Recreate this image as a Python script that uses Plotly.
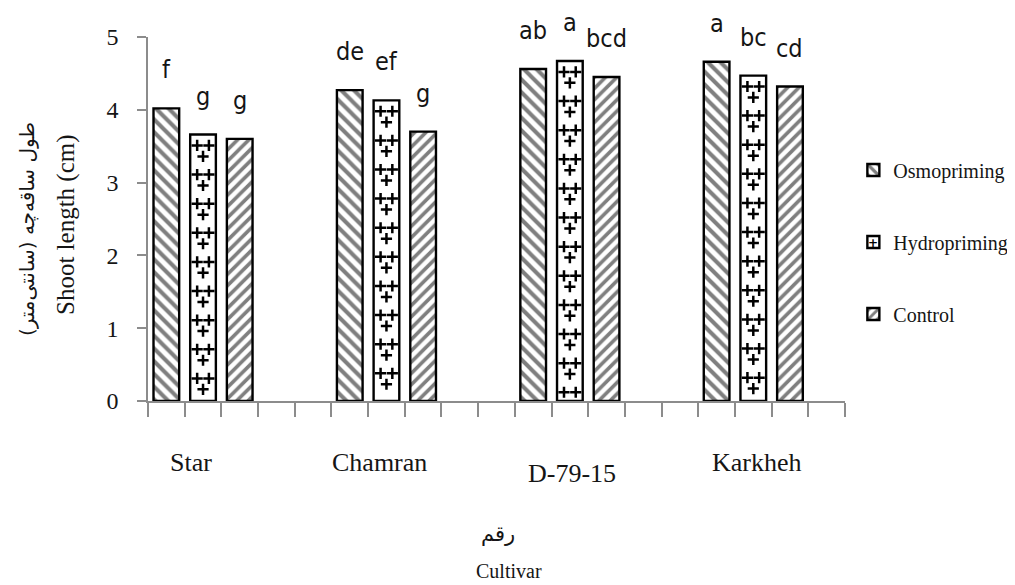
import plotly.graph_objects as go

# ---------------- data ----------------
cultivars = ["Star", "Chamran", "D-79-15", "Karkheh"]
series_names = ["Osmopriming", "Hydropriming", "Control"]
osmo = [4.02, 4.27, 4.56, 4.66]
hydro = [3.66, 4.13, 4.67, 4.47]
control = [3.60, 3.70, 4.45, 4.32]
osmo_letters = ["f", "de", "ab", "a"]
hydro_letters = ["g", "ef", "a", "bc"]
control_letters = ["g", "g", "bcd", "cd"]
y_ticks = [0, 1, 2, 3, 4, 5]

values = [osmo, hydro, control]
letters = [osmo_letters, hydro_letters, control_letters]

# ---------------- layout helpers ----------------
SLOTS_PER_GROUP = 5
N_SLOTS = 19
BAR_W = 0.70
SERIF = "Liberation Serif, Times New Roman, serif"
NARROW = "Liberation Sans Narrow, Arial Narrow, DejaVu Sans Condensed, sans-serif"
AXIS_COLOR = "#8c8c8c"
TEXT_COLOR = "#151515"

patterns = [
    dict(shape="\\", fgcolor="black", bgcolor="white", size=9, solidity=0.45),
    None,
    dict(shape="/", fgcolor="black", bgcolor="white", size=8, solidity=0.45),
]


def slot_x(group, idx):
    return group * SLOTS_PER_GROUP + idx + 0.5


fig = go.Figure()

for si, (name, vals) in enumerate(zip(series_names, values)):
    xs = [slot_x(g, si) for g in range(len(cultivars))]
    marker = dict(color="white", line=dict(color="black", width=2.4))
    if patterns[si] is not None:
        marker["pattern"] = patterns[si]
    fig.add_trace(go.Bar(
        x=xs, y=vals, width=BAR_W, name=name, marker=marker,
        legendgroup=name, hoverinfo="x+y",
    ))

# plus signs inside the hydropriming bars (derived from the bar heights)
PERIOD = 0.40
px_, py_ = [], []
for g, v in enumerate(hydro):
    xc = slot_x(g, 1)
    k = 0
    while True:
        yd = v - 0.15 - k * PERIOD
        ys = yd - 0.15
        if yd <= 0.05:
            break
        px_ += [xc - 0.16, xc + 0.16]
        py_ += [yd, yd]
        if ys > 0.05:
            px_.append(xc)
            py_.append(ys)
        k += 1
fig.add_trace(go.Scatter(
    x=px_, y=py_, mode="markers", showlegend=False, hoverinfo="skip",
    marker=dict(symbol="cross-thin", size=8, line=dict(color="black", width=2.5)),
))

annotations = []
# significance letters
for si, vals in enumerate(values):
    for g, v in enumerate(vals):
        annotations.append(dict(
            x=slot_x(g, si), y=v, xref="x", yref="y", text=letters[si][g],
            showarrow=False, yanchor="bottom", yshift=22,
            font=dict(family=NARROW, size=25, color=TEXT_COLOR),
        ))

# cultivar labels under the axis
label_dx = [-12, -7, 2, 4]
label_dy = [-61, -61, -72, -61]
for g, c in enumerate(cultivars):
    annotations.append(dict(
        x=g * SLOTS_PER_GROUP + 1.5, y=0, xref="x", yref="paper", text=c,
        showarrow=False, xanchor="center", yanchor="middle",
        xshift=label_dx[g], yshift=label_dy[g],
        font=dict(family=SERIF, size=26, color=TEXT_COLOR),
    ))

# x-axis title (two lines)
annotations.append(dict(
    x=0.5, y=0, xref="paper", yref="paper", text="رقم", showarrow=False,
    xanchor="center", yanchor="middle", xshift=1, yshift=-133,
    font=dict(family="DejaVu Sans, sans-serif", size=21, color=TEXT_COLOR),
))
annotations.append(dict(
    x=0.5, y=0, xref="paper", yref="paper", text="Cultivar", showarrow=False,
    xanchor="center", yanchor="middle", xshift=12, yshift=-170,
    font=dict(family=SERIF, size=20, color=TEXT_COLOR),
))

# y-axis title (two lines)
annotations.append(dict(
    x=0, y=0.5, xref="paper", yref="paper", text="طول ساقه‌چه (سانتی‌متر)",
    showarrow=False, textangle=-90, xanchor="center", yanchor="middle",
    xshift=-121, yshift=-10,
    font=dict(family="DejaVu Sans, sans-serif", size=20, color=TEXT_COLOR),
))
annotations.append(dict(
    x=0, y=0.5, xref="paper", yref="paper", text="Shoot length (cm)",
    showarrow=False, textangle=-90, xanchor="center", yanchor="middle",
    xshift=-82, yshift=-6,
    font=dict(family=SERIF, size=25, color=TEXT_COLOR),
))

# plus mark inside the hydropriming legend key
annotations.append(dict(
    x=1.0405, y=0.433, xref="paper", yref="paper", text="<b>+</b>",
    showarrow=False, xanchor="center", yanchor="middle",
    font=dict(family="DejaVu Sans, sans-serif", size=12, color="black"),
))

# The page body has an 8px default margin, so the figure is drawn 8px in from
# the top-left corner; size and margins compensate for that.
fig.update_layout(
    width=1007, height=577,
    margin=dict(l=140, r=170, t=29, b=184, autoexpand=False),
    paper_bgcolor="white", plot_bgcolor="white",
    barmode="overlay",
    showlegend=True,
    legend=dict(
        x=1.012, y=0.688, xanchor="left", yanchor="top",
        font=dict(family=SERIF, size=20, color=TEXT_COLOR),
        tracegroupgap=43, bgcolor="rgba(0,0,0,0)",
    ),
    annotations=annotations,
    xaxis=dict(
        range=[0, N_SLOTS], tickmode="array", tickvals=list(range(N_SLOTS + 1)),
        showticklabels=False, ticks="outside", ticklen=14, tickwidth=1.5,
        tickcolor=AXIS_COLOR, showline=True, linecolor=AXIS_COLOR, linewidth=1.5,
        showgrid=False, zeroline=False, fixedrange=True, automargin=False,
    ),
    yaxis=dict(
        range=[0, 5], tickmode="array", tickvals=y_ticks,
        ticks="outside", ticklen=9, tickwidth=1.5, tickcolor=AXIS_COLOR,
        showline=True, linecolor=AXIS_COLOR, linewidth=1.5, automargin=False,
        showgrid=False, zeroline=False, ticklabelstandoff=14,
        tickfont=dict(family=SERIF, size=24, color=TEXT_COLOR),
    ),
)

fig.write_html("out.html")
